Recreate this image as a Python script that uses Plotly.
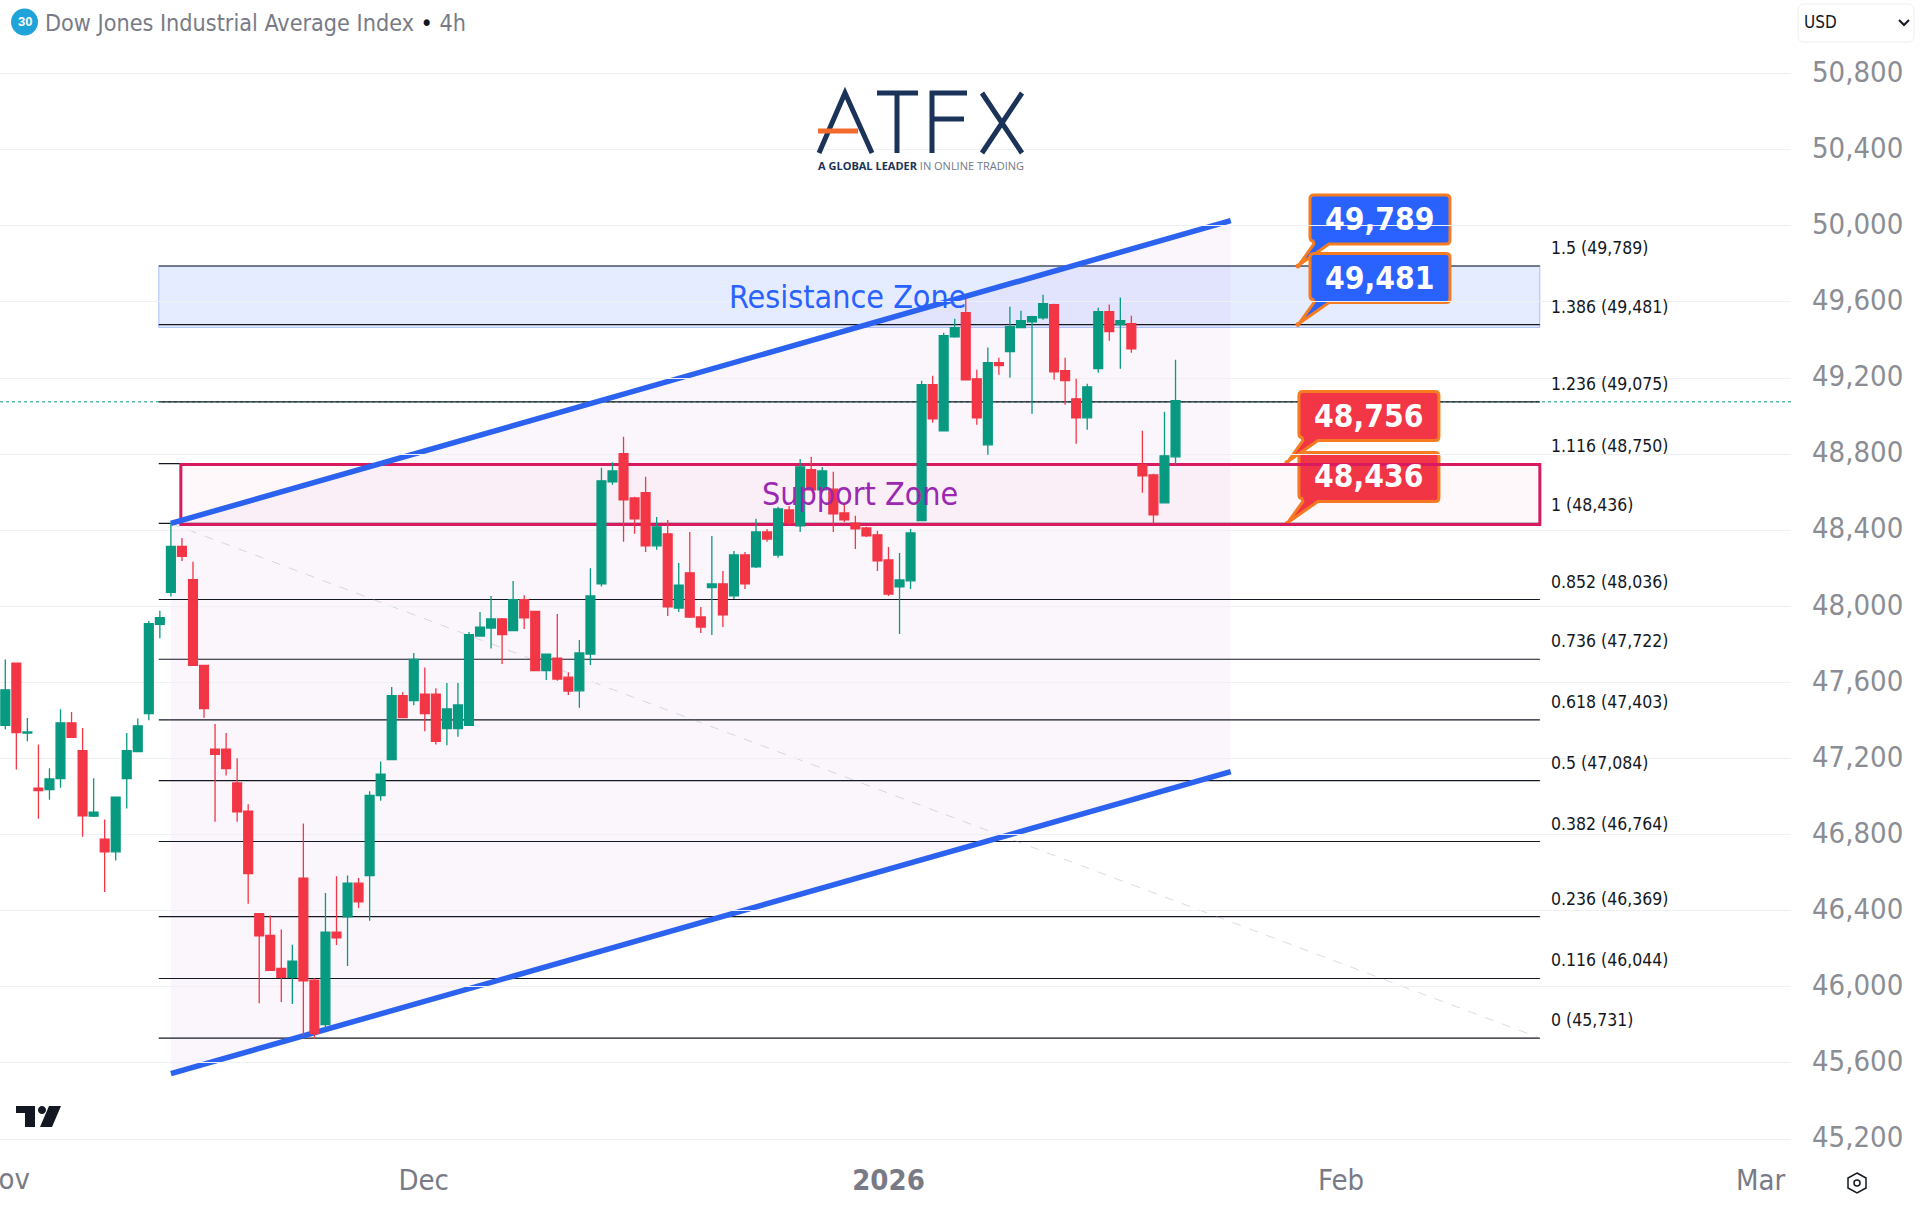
import plotly.graph_objects as go

# candle values, 4h bars
open_ = [47374,47701,47334,47045,47037,47095,47388,47241,46897,46776,46710,47095,47236,47436,47905,48073,48315,48140,47690,47249,
         47249,47072,46924,46385,46270,46097,46050,46572,46035,45802,46287,46368,46545,46585,47005,47195,47530,47505,47538,47538,
         47357,47357,47374,47844,47886,47934,47872,48035,47974,47662,47728,47628,47556,47749,48118,48654,48802,48570,48597,48318,
         48381,47991,48176,47944,48098,48118,48055,48270,48207,48391,48270,48507,48423,48718,48612,48616,48491,48437,48412,48376,
         48244,48102,48134,48451,49165,48923,49417,49544,49196,48849,49281,49339,49465,49496,49517,49586,49239,49091,48991,49249,
         49549,49481,49486,48744,48691,48544,48786]
high = [47721,47701,47413,47274,47149,47459,47445,47361,47097,46880,46997,47334,47411,47923,47977,48438,48359,48234,47690,47382,
        47334,47201,46960,46385,46375,46302,46222,46859,46045,46493,46581,46585,46572,47028,47184,47576,47549,47755,47678,47570,
        47597,47597,47865,47970,48055,47939,48133,48058,47974,47749,47960,47653,47823,48200,48728,48758,48891,48576,48681,48470,
        48454,48228,48391,47997,48370,48186,48291,48286,48460,48407,48523,48528,48775,48786,48733,48707,48539,48476,48418,48397,
        48312,48281,48407,49186,49212,49438,49512,49617,49244,49360,49307,49575,49554,49528,49638,49591,49307,49196,49170,49570,
        49586,49623,49528,48923,48697,49023,49296]
low = [47353,47143,47291,46884,46984,47047,47311,46789,46893,46499,46664,46937,47236,47401,47832,48052,48238,47690,47415,46868,
       47111,46868,46437,45914,46083,45920,45910,45743,45729,45775,46220,46110,46414,46347,46978,47195,47415,47480,47343,47274,
       47270,47315,47374,47844,47779,47697,47872,47881,47662,47613,47609,47534,47467,47692,48104,48639,48340,48381,48286,48297,
       47949,47970,47939,47860,47849,47891,48039,48091,48202,48339,48255,48428,48391,48612,48612,48391,48444,48302,48365,48186,
       48055,47855,48091,48451,48965,48923,49412,49191,48954,48797,49217,49202,49465,49012,49507,49191,49060,48854,48928,49228,
       49396,49249,49333,48597,48433,48544,48744]
close = [47561,47336,47340,47032,47093,47388,47311,46899,46918,46710,46997,47241,47372,47909,47940,48315,48263,47690,47463,47222,
         47147,46920,46595,46268,46087,46050,46135,46031,45754,46287,46258,46545,46447,47007,47118,47530,47415,47721,47436,47290,
         47461,47482,47851,47891,47934,47851,48035,47939,47662,47749,47618,47555,47755,48055,48660,48712,48560,48460,48318,48418,
         47997,48112,47944,47891,48118,47955,48270,48118,48391,48354,48512,48439,48733,48612,48712,48486,48454,48407,48370,48239,
         48065,48139,48386,49165,48986,49423,49465,49191,48991,49281,49265,49470,49502,49523,49591,49233,49186,48991,49154,49549,
         49444,49502,49354,48686,48481,48791,49081]
bars = list(range(len(close)))

y_ticks = [50800,50400,50000,49600,49200,48800,48400,48000,47600,47200,46800,46400,46000,45600,45200]
y_labels = ["50,800","50,400","50,000","49,600","49,200","48,800","48,400","48,000","47,600","47,200","46,800","46,400","46,000","45,600","45,200"]
x_ticks = [37.9,80,121,159]
x_labels = ["Dec","<b>2026</b>","Feb","Mar"]
cut_label = "Nov"  # runs off the left edge of the page

fib_ratio = ["1.5","1.386","1.236","1.116","1","0.852","0.736","0.618","0.5","0.382","0.236","0.116","0"]
fib_price = [49789,49481,49075,48750,48436,48036,47722,47403,47084,46764,46369,46044,45731]
fib_start, fib_end = 13.9, 139
chan_x = [15,111]
chan_top = [48436,50027]
chan_bottom = [45544,47131]
res_zone = [49466,49789]
sup_zone = [48430,48746]
sup_left = 15.9
last_price = 49075

tags_x = [117,117,116,116]
tags_y = [49789,49481,48756,48436]
tags_txt = ["49,789","49,481","48,756","48,436"]
tags_col = ["#2962ff","#2962ff","#f23645","#f23645"]

GREEN = "#089981"
RED = "#f23645"
BLUE = "#2b62f0"
FONT = "DejaVu Sans Condensed"
W, H = 1921, 1212
PLOT_W, PLOT_H = 1791, 1160


def px_shape(d, **kw):
    # path in page pixels, y turned around because the anchor is the top of the plot
    base = dict(type="path", xref="paper", yref="paper", xanchor=0, yanchor=1,
                xsizemode="pixel", ysizemode="pixel", path=d, layer="above")
    base.update(kw)
    return base


def stroke(pts, color, width):
    d = "M" + " L".join(f"{x},{-y}" for x, y in pts)
    return px_shape(d, line=dict(color=color, width=width))


def circle_path(cx, cy, r):
    k = 0.552 * r
    return (f"M{cx-r},{cy} C{cx-r},{cy+k} {cx-k},{cy+r} {cx},{cy+r} C{cx+k},{cy+r} {cx+r},{cy+k} {cx+r},{cy} "
            f"C{cx+r},{cy-k} {cx+k},{cy-r} {cx},{cy-r} C{cx-k},{cy-r} {cx-r},{cy-k} {cx-r},{cy} Z")


def round_box(x0, y0, x1, y1, r):
    return (f"M{x0+r},{-y0} L{x1-r},{-y0} Q{x1},{-y0} {x1},{-y0-r} L{x1},{-y1+r} Q{x1},{-y1} {x1-r},{-y1} "
            f"L{x0+r},{-y1} Q{x0},{-y1} {x0},{-y1+r} L{x0},{-y0-r} Q{x0},{-y0} {x0+r},{-y0} Z")


def tag_shapes(x, y, color):
    # price note: rounded box with its tail, in pixels from the anchored bar/price
    d = ("M16,25 Q13,25 13,29 L13,67 Q13,71 17,71 L149,71 Q153,71 153,67 L153,26 Q153,22 149,22 "
         "L32,22 L2,1 L17,22 Z")
    anchor = dict(type="path", layer="below", xref="x", yref="y", xanchor=x, yanchor=y,
                  xsizemode="pixel", ysizemode="pixel")
    return [dict(anchor, path=d, fillcolor=color, line=dict(color="#f57c20", width=3)),
            dict(anchor, path=circle_path(1, 0, 2.5), fillcolor="#f57c20", line=dict(width=0))]


shapes = []
shapes.append(dict(type="path", layer="below", xref="x", yref="y",
                   path=f"M{chan_x[0]},{chan_top[0]} L{chan_x[1]},{chan_top[1]} L{chan_x[1]},{chan_bottom[1]} L{chan_x[0]},{chan_bottom[0]} Z",
                   fillcolor="rgba(156,39,176,0.045)", line=dict(width=0)))
shapes.append(dict(type="rect", layer="below", xref="x", yref="y", x0=fib_start, x1=fib_end,
                   y0=res_zone[0], y1=res_zone[1], fillcolor="rgba(41,98,255,0.12)",
                   line=dict(color="rgba(41,98,255,0.35)", width=1)))
for p in fib_price:
    shapes.append(dict(type="line", layer="below", xref="x", yref="y", x0=fib_start, x1=fib_end,
                       y0=p, y1=p, line=dict(color="#131722", width=1.2)))
shapes.append(dict(type="line", layer="below", xref="x", yref="y", x0=chan_x[0], x1=fib_end,
                   y0=fib_price[4], y1=fib_price[-1], line=dict(color="rgba(150,150,165,0.35)", width=1, dash="dash")))
shapes.append(dict(type="line", layer="below", xref="paper", yref="y", x0=0, x1=1,
                   y0=last_price, y1=last_price, line=dict(color=GREEN, width=1, dash="dot")))
for i in range(len(tags_x)):
    shapes += tag_shapes(tags_x[i], tags_y[i], tags_col[i])
shapes.append(dict(type="rect", layer="below", xref="x", yref="y", x0=sup_left, x1=fib_end,
                   y0=sup_zone[0], y1=sup_zone[1], fillcolor="rgba(233,30,99,0.03)",
                   line=dict(color="#d81b60", width=3)))
shapes.append(dict(type="line", layer="below", xref="x", yref="y", x0=chan_x[0], x1=chan_x[1],
                   y0=chan_top[0], y1=chan_top[1], line=dict(color=BLUE, width=5.5)))
shapes.append(dict(type="line", layer="below", xref="x", yref="y", x0=chan_x[0], x1=chan_x[1],
                   y0=chan_bottom[0], y1=chan_bottom[1], line=dict(color=BLUE, width=5.5)))

# ATFX logo
NAVY = "#1b3358"
shapes += [
    stroke([(819,153),(845,93),(872,153)], NAVY, 5),
    stroke([(877,93),(918,93)], NAVY, 5),
    stroke([(897,93),(897,153)], NAVY, 5),
    stroke([(967,93),(932,93),(932,153)], NAVY, 5),
    stroke([(932,119),(964,119)], NAVY, 5),
    stroke([(982,93),(1022,153)], NAVY, 5),
    stroke([(1022,93),(982,153)], NAVY, 5),
    stroke([(818,131),(858,131)], "#f26b2a", 5),
]
# symbol badge, currency box, chart logo, settings icon
shapes.append(px_shape(circle_path(24.5, -22, 13.5), fillcolor="#1fa3d8", line=dict(width=0)))
shapes.append(px_shape(round_box(1798, 4, 1914, 42, 6), fillcolor="white", line=dict(color="#eeeeee", width=1)))
shapes.append(stroke([(1899,20),(1904,25),(1909,20)], "#131722", 2))
shapes.append(px_shape("M16,-1106 L35,-1106 L35,-1127 L25,-1127 L25,-1113 L16,-1113 Z", fillcolor="#131722", line=dict(width=0)))
shapes.append(px_shape(circle_path(42, -1110, 4), fillcolor="#131722", line=dict(width=0)))
shapes.append(px_shape("M49,-1106 L61,-1106 L52,-1127 L40,-1127 Z", fillcolor="#131722", line=dict(width=0)))
shapes.append(px_shape("M1857,-1173 L1866,-1178 L1866,-1188 L1857,-1193 L1848,-1188 L1848,-1178 Z", line=dict(color="#131722", width=1.5)))
shapes.append(px_shape(circle_path(1857, -1183, 3), line=dict(color="#131722", width=1.5)))

annos = []
for i in range(len(fib_ratio)):
    annos.append(dict(x=fib_end, y=fib_price[i], xref="x", yref="y", text=f"{fib_ratio[i]} ({fib_price[i]:,})",
                      showarrow=False, xanchor="left", yanchor="middle", xshift=9, yshift=18,
                      font=dict(family=FONT, size=17.5, color="#131722")))
for i in range(len(tags_x)):
    annos.append(dict(x=tags_x[i], y=tags_y[i], xref="x", yref="y", text=f"<b>{tags_txt[i]}</b>",
                      showarrow=False, xanchor="center", yanchor="middle", xshift=83, yshift=47,
                      font=dict(family=FONT, size=31.5, color="white")))
annos.append(dict(x=76.3, y=49626, xref="x", yref="y", text="Resistance Zone", showarrow=False,
                  font=dict(family=FONT, size=32, color="#2962ff")))
annos.append(dict(x=77.4, y=48588, xref="x", yref="y", text="Support Zone", showarrow=False,
                  font=dict(family=FONT, size=32, color="#9c27b0")))
annos.append(dict(x=43, y=23, xref="paper", yref="paper", text="Dow Jones Industrial Average Index <span style='color:#131722'>•</span> 4h",
                  showarrow=False, xanchor="left", yanchor="middle", font=dict(family=FONT, size=23.2, color="#787b86")))
annos.append(dict(x=24.5, y=22, xref="paper", yref="paper", text="<b>30</b>", showarrow=False, xanchor="center", yanchor="middle",
                  font=dict(family="Liberation Sans", size=13, color="white")))
annos.append(dict(x=1802, y=22, xref="paper", yref="paper", text="USD", showarrow=False, xanchor="left", yanchor="middle",
                  font=dict(family=FONT, size=17, color="#131722")))
annos.append(dict(x=920.5, y=165, xref="paper", yref="paper",
                  text="<b>A GLOBAL LEADER</b> <span style='color:#6f7a8a'>IN ONLINE TRADING</span>", showarrow=False,
                  xanchor="center", yanchor="middle", font=dict(family="Open Sans", size=11, color=NAVY)))
annos.append(dict(x=4.4, y=1179, xref="paper", yref="paper", text=cut_label, showarrow=False, xanchor="center", yanchor="middle",
                  font=dict(family=FONT, size=29, color="#787b86")))
# page pixels to paper fractions for the texts placed on the page
for a in annos:
    if a["xref"] == "paper":
        a["x"] = a["x"] / PLOT_W
        a["y"] = 1 - a["y"] / PLOT_H

fig = go.Figure(go.Candlestick(x=bars, open=open_, high=high, low=low, close=close,
                               increasing=dict(line=dict(color=GREEN, width=1.3), fillcolor=GREEN),
                               decreasing=dict(line=dict(color=RED, width=1.3), fillcolor=RED),
                               whiskerwidth=0))
fig.update_layout(
    width=W, height=H, autosize=False, showlegend=False, paper_bgcolor="white", plot_bgcolor="white",
    margin=dict(l=0, r=W-PLOT_W, t=0, b=H-PLOT_H, pad=0), boxgap=0.2, boxgroupgap=0,
    shapes=shapes, annotations=annos,
    xaxis=dict(range=[-0.48,161.75], rangeslider=dict(visible=False), showgrid=False, zeroline=False, showline=False,
               tickmode="array", tickvals=x_ticks, ticktext=x_labels, ticks="", ticklabelstandoff=0,
               tickfont=dict(family=FONT, size=29, color="#787b86")),
    yaxis=dict(range=[45090,51187], side="right", showgrid=True, gridcolor="#eff0f3", gridwidth=1, zeroline=False, showline=False,
               tickmode="array", tickvals=y_ticks, ticktext=y_labels, ticks="", ticklabelstandoff=20, ticklabelshift=-2,
               tickfont=dict(family=FONT, size=29, color="#8a8d94")),
)
# the page's default body margin would push the chart 8px off
fig.write_html("out.html", post_script="document.body.style.margin='0';", config={"displayModeBar": False})
